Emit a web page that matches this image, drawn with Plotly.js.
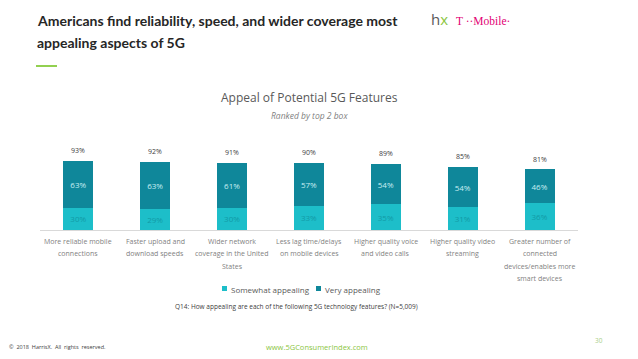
<!DOCTYPE html>
<html>
<head>
<meta charset="utf-8">
<script src="https://cdn.plot.ly/plotly-3.0.1.min.js"></script>
<style>html,body{margin:0;padding:0;background:#fff;}#chart{width:638px;height:359px;}</style>
</head>
<body>
<div id="chart"></div>
<script>
const categories = [
  "More reliable mobile<br>connections",
  "Faster upload and<br>download speeds",
  "Wider network<br>coverage in the United<br>States",
  "Less lag time/delays<br>on mobile devices",
  "Higher quality voice<br>and video calls",
  "Higher quality video<br>streaming",
  "Greater number of<br>connected<br>devices/enables more<br>smart devices"
];
const somewhatAppealing = [30, 29, 30, 33, 35, 31, 36];
const veryAppealing = [63, 63, 61, 57, 54, 54, 46];
const top2Box = [93, 92, 91, 90, 89, 85, 81];
const seriesNames = ["Somewhat appealing", "Very appealing"];
const seriesColors = ["#1dbec9", "#0f879a"];

const pct = a => a.map(v => v + "%");
const fontFam = "'Open Sans', 'Noto Sans', sans-serif";

// pixel helpers for paper coords (plot area: x 40..578, y 150..230)
const L = 40, R = 578, T = 150, B = 230;
const px = x => (x - L) / (R - L);
const py = y => (B - y) / (B - T);

const traces = [
  {
    type: "bar", name: seriesNames[0], x: categories, y: somewhatAppealing,
    marker: {color: seriesColors[0]},
    text: pct(somewhatAppealing), textposition: "inside", insidetextanchor: "middle",
    textfont: {color: "#129aa6", size: 8, family: fontFam},
    hoverinfo: "skip", showlegend: false
  },
  {
    type: "bar", name: seriesNames[1], x: categories, y: veryAppealing,
    marker: {color: seriesColors[1]},
    text: pct(veryAppealing), textposition: "inside", insidetextanchor: "middle",
    textfont: {color: "#c8eef2", size: 8, family: fontFam},
    hoverinfo: "skip", showlegend: false
  }
];

const annotations = [];
const shapes = [
  {type: "line", xref: "paper", yref: "paper", x0: px(36), x1: px(57), y0: py(66), y1: py(66),
   line: {color: "#92d050", width: 2}}
];
// totals above bars
categories.forEach((c, i) => {
  annotations.push({text: top2Box[i] + "%", x: c, y: top2Box[i], xref: "x", yref: "y",
    yanchor: "bottom", yshift: 4, showarrow: false,
    font: {size: 7, color: "#404040", family: fontFam}});
});
// category labels with custom line spacing
categories.forEach((c, i) => {
  c.split("<br>").forEach((line, j) => {
    annotations.push({text: line, x: c, xref: "x", yref: "paper", y: py(241 + j * 12.5),
      yanchor: "middle", xanchor: "center", showarrow: false,
      font: {size: 7, color: "#7f7f7f", family: fontFam}});
  });
});
// custom legend
const legendX = [222, 316];
seriesNames.forEach((n, i) => {
  shapes.push({type: "rect", xref: "paper", yref: "paper",
    x0: px(legendX[i]), x1: px(legendX[i] + 5), y0: py(291), y1: py(286),
    fillcolor: seriesColors[i], line: {width: 0}});
  annotations.push({
    text: n, xref: "paper", yref: "paper", x: px(legendX[i] + 7), y: py(289),
    xanchor: "left", yanchor: "middle", align: "left",
    showarrow: false, font: {size: 8, color: "#595959", family: fontFam}
  });
});

const titleFont = {size: 14, color: "#262626", family: "Lato, 'Open Sans', sans-serif"};
annotations.push(
  {text: "<b>Americans find reliability, speed, and wider coverage most</b>",
   xref: "paper", yref: "paper", x: px(35), y: py(20), xanchor: "left", yanchor: "middle",
   showarrow: false, font: titleFont},
  {text: "<b>appealing aspects of 5G</b>",
   xref: "paper", yref: "paper", x: px(35), y: py(42), xanchor: "left", yanchor: "middle",
   showarrow: false, font: titleFont},
  {text: "<span style='color:#595959'>h</span><span style='color:#8cc63f'>x</span>",
   xref: "paper", yref: "paper", x: px(429), y: py(19), xanchor: "left", yanchor: "middle",
   showarrow: false, font: {size: 15, family: fontFam}},
  {text: "T \u00b7\u00b7Mobile\u00b7",
   xref: "paper", yref: "paper", x: px(454), y: py(21), xanchor: "left", yanchor: "middle",
   showarrow: false, font: {size: 11.5, color: "#e20074", family: "'Liberation Serif', serif"}},
  {text: "Appeal of Potential 5G Features",
   xref: "paper", yref: "paper", x: px(309), y: py(97), xanchor: "center", yanchor: "middle",
   showarrow: false, font: {size: 12, color: "#595959", family: fontFam}},
  {text: "<i>Ranked by top 2 box</i>",
   xref: "paper", yref: "paper", x: px(309), y: py(115), xanchor: "center", yanchor: "middle",
   showarrow: false, font: {size: 8.5, color: "#7f7f7f", family: fontFam}},
  {text: "Q14: How appealing are each of the following 5G technology features? (N=5,009)",
   xref: "paper", yref: "paper", x: px(296), y: py(306), xanchor: "center", yanchor: "middle",
   showarrow: false, font: {size: 6.5, color: "#404040", family: fontFam}},
  {text: "\u00a9  2018  HarrisX.  All  rights  reserved.",
   xref: "paper", yref: "paper", x: px(7), y: py(347), xanchor: "left", yanchor: "middle",
   showarrow: false, font: {size: 5.5, color: "#404040", family: fontFam}},
  {text: "www.5GConsumerIndex.com",
   xref: "paper", yref: "paper", x: px(317), y: py(347), xanchor: "center", yanchor: "middle",
   showarrow: false, font: {size: 7.5, color: "#8cc63f", family: fontFam}},
  {text: "30",
   xref: "paper", yref: "paper", x: px(599), y: py(340), xanchor: "center", yanchor: "middle",
   showarrow: false, font: {size: 6.5, color: "#a9cf8a", family: fontFam}}
);

const layout = {
  width: 638, height: 359,
  margin: {l: L, r: 638 - R, t: T, b: 359 - B, pad: 0},
  paper_bgcolor: "#ffffff", plot_bgcolor: "#ffffff",
  barmode: "stack", bargap: 0.61,
  showlegend: false,
  xaxis: {type: "category", showgrid: false, zeroline: false, showline: true, linecolor: "#d9d9d9", linewidth: 1,
          ticks: "", showticklabels: false, fixedrange: true},
  yaxis: {range: [0, 108], visible: false, showgrid: false, zeroline: false, fixedrange: true},
  annotations: annotations,
  shapes: shapes
};

Plotly.newPlot("chart", traces, layout, {displayModeBar: false, staticPlot: true});
</script>
</body>
</html>
